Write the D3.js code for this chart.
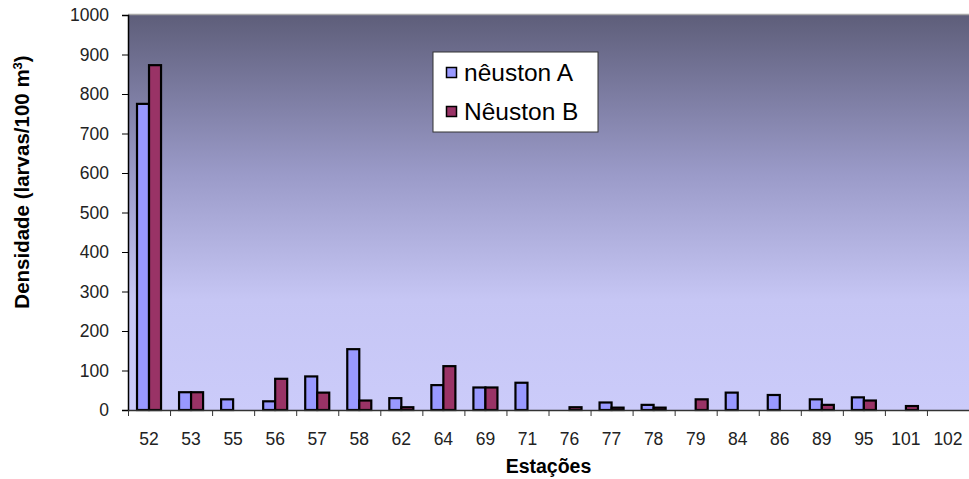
<!DOCTYPE html>
<html>
<head>
  <meta charset="UTF-8">
  <script src="https://cdnjs.cloudflare.com/ajax/libs/d3/7.8.5/d3.min.js"></script>
  <style>
      * { box-sizing: border-box; }
      body { margin: 0; background: #fff; }
      text { font-family: "Liberation Sans", Arial, sans-serif; }
  </style>
</head>
<body>
<div id="root"></div>
<script>

  // stations and densities (larvas/100 m3)
  var stations = ["52","53","55","56","57","58","62","64","69","71","76","77","78","79","84","86","89","95","101","102"];
  var neustonA = [775, 45, 27, 22, 85, 154, 30, 63, 57, 69, 0, 19, 13, 0, 44, 38, 27, 32, 0, 0];
  var neustonB = [873, 45, 0, 79, 44, 24, 7, 111, 57, 0, 7, 6, 6, 27, 0, 0, 13, 24, 10, 0];
  var seriesNames = ["nêuston A", "Nêuston B"];
  var seriesColors = ["#9999ff", "#993366"];
  var yTicks = [0, 100, 200, 300, 400, 500, 600, 700, 800, 900, 1000];

  var W = 969, H = 479;
  var margin = {top: 15, right: 0, bottom: 69, left: 128};
  var width = W - margin.left - margin.right,
      height = H - margin.top - margin.bottom;

  var svg = d3.select("#root").append("svg")
    .attr("width", W).attr("height", H);

  // background gradient of the plot area
  var grad = svg.append("defs").append("linearGradient")
    .attr("id", "bg").attr("x1", 0).attr("y1", 0).attr("x2", 0).attr("y2", 1);
  grad.append("stop").attr("offset", "0%").attr("stop-color", "#5e5e7a");
  grad.append("stop").attr("offset", "40%").attr("stop-color", "#9a9ac8");
  grad.append("stop").attr("offset", "72%").attr("stop-color", "#c6c6f4");
  grad.append("stop").attr("offset", "100%").attr("stop-color", "#cbcbfa");

  var g = svg.append("g")
    .attr("transform", "translate(" + margin.left + "," + margin.top + ")");

  var x = d3.scaleBand().domain(stations).range([0, width]);
  var x1 = d3.scaleBand().domain(seriesNames).range([0, x.bandwidth()]).paddingOuter(0.75);
  var y = d3.scaleLinear().domain([0, 1000]).range([height, 0]);

  g.append("rect")
    .attr("width", width).attr("height", height)
    .attr("fill", "url(#bg)");
  g.append("line")
    .attr("x1", 0).attr("x2", width).attr("y1", -0.5).attr("y2", -0.5)
    .attr("stroke", "#a8a8a8").attr("stroke-width", 1.5);

  // bars
  var rows = stations.map(function(s, i) {
    return {station: s, values: [neustonA[i], neustonB[i]]};
  });
  var grp = g.selectAll(".grp").data(rows).enter().append("g")
    .attr("transform", function(d) { return "translate(" + x(d.station) + ",0)"; });
  grp.selectAll("rect")
    .data(function(d) { return d.values.map(function(v, j) { return {name: seriesNames[j], v: v, c: seriesColors[j]}; }); })
    .enter().filter(function(d) { return d.v > 0; }).append("rect")
    .attr("x", function(d) { return x1(d.name); })
    .attr("y", function(d) { return y(d.v); })
    .attr("width", x1.bandwidth())
    .attr("height", function(d) { return height - y(d.v); })
    .attr("fill", function(d) { return d.c; })
    .attr("stroke", "#000")
    .attr("stroke-width", 2.2);

  // y axis
  var yAxis = g.append("g")
    .call(d3.axisLeft(y).tickValues(yTicks).tickFormat(d3.format("d")).tickSize(6).tickPadding(13));
  yAxis.select(".domain").attr("stroke", "#000").attr("stroke-width", 1.5);
  yAxis.selectAll(".tick line").attr("stroke", "#000");
  yAxis.selectAll("text")
    .style("font-size", "17.5px").attr("fill", "#222");

  // x axis
  var xAxis = g.append("g")
    .attr("transform", "translate(0," + height + ")")
    .call(d3.axisBottom(x).tickSize(0).tickPadding(23));
  xAxis.select(".domain").attr("stroke", "#333").attr("stroke-width", 1.5);
  xAxis.selectAll("text")
    .style("font-size", "17.5px").attr("fill", "#222");
  xAxis.selectAll(".sep").data(stations).enter().append("line")
    .attr("x1", function(d) { return x(d) + 0.5; })
    .attr("x2", function(d) { return x(d) + 0.5; })
    .attr("y1", 0).attr("y2", 6)
    .attr("stroke", "#333");

  // titles
  svg.append("text")
    .attr("x", margin.left + width / 2).attr("y", 473)
    .attr("text-anchor", "middle")
    .style("font-size", "19.5px").style("font-weight", "bold")
    .text("Estações");
  svg.append("text")
    .attr("transform", "translate(29,182) rotate(-90)")
    .attr("text-anchor", "middle")
    .style("font-size", "20.5px").style("font-weight", "bold")
    .html("Densidade (larvas/100 m<tspan font-size='13px' dy='-7'>3</tspan><tspan dy='7'>)</tspan>");

  // legend
  var lg = svg.append("g").attr("transform", "translate(433,52)");
  lg.append("rect").attr("width", 165).attr("height", 80)
    .attr("fill", "#fff").attr("stroke", "#333").attr("stroke-width", 1);
  seriesNames.forEach(function(n, i) {
    var row = lg.append("g").attr("transform", "translate(0," + (i * 39) + ")");
    row.append("rect").attr("x", 13.5).attr("y", 15.5).attr("width", 10).attr("height", 10)
      .attr("fill", seriesColors[i]).attr("stroke", "#000").attr("stroke-width", 1.5);
    row.append("text").attr("x", 31).attr("y", 28.5)
      .style("font-size", "24.5px").attr("fill", "#000")
      .text(n);
  });

</script>
</body>
</html>
